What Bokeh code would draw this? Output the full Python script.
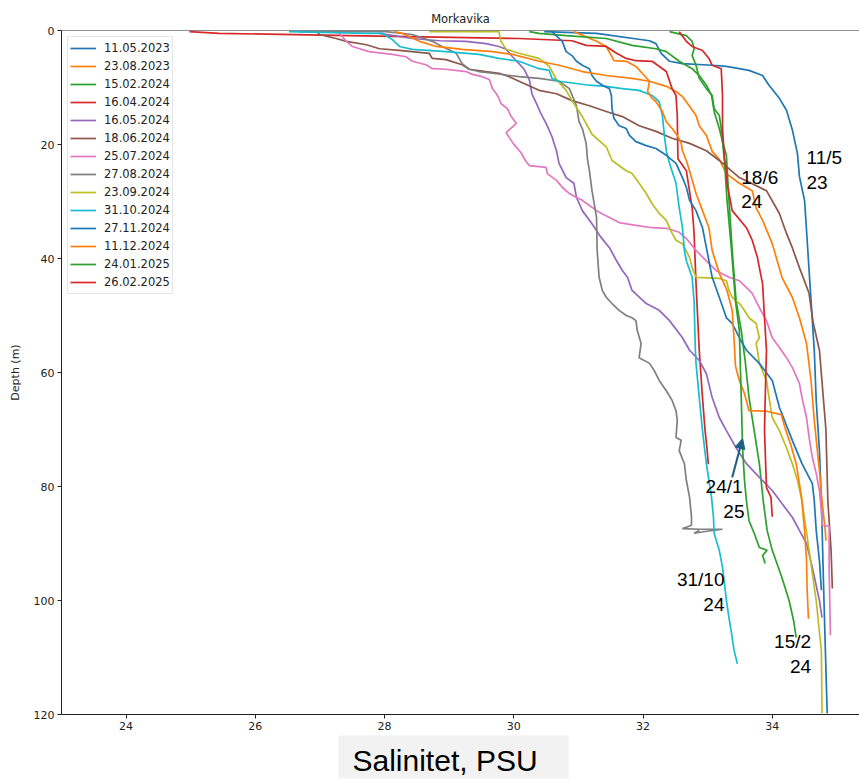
from bokeh.plotting import figure
from bokeh.models import Range1d, Span, Label, Arrow, NormalHead, FixedTicker, Title
from bokeh.embed import file_html
from bokeh.resources import INLINE

# ---------------- data (salinity PSU vs depth m) ----------------
dates = ["11.05.2023", "23.08.2023", "15.02.2024", "16.04.2024", "16.05.2024",
         "18.06.2024", "25.07.2024", "27.08.2024", "23.09.2024", "31.10.2024",
         "27.11.2024", "11.12.2024", "24.01.2025", "26.02.2025"]
colors = ["#1f77b4", "#ff7f0e", "#2ca02c", "#d62728", "#9467bd", "#8c564b", "#e377c2",
          "#7f7f7f", "#bcbd22", "#17becf", "#1f77b4", "#ff7f0e", "#2ca02c", "#d62728"]

sal_20230511 = [30.47, 31.28, 32.10, 32.20, 32.28, 32.41, 32.61, 33.07, 33.29, 33.64, 33.85, 33.95, 34.11, 34.22,
                34.31, 34.39, 34.42, 34.50, 34.54, 34.60, 34.65, 34.68, 34.73, 34.76, 34.80, 34.85]
dep_20230511 = [0.2, 0.5, 1.8, 2.3, 4.0, 5.4, 5.8, 6.1, 6.3, 7.0, 7.9, 9.6, 11.9, 14.0,
                17.4, 21.6, 25.6, 29.8, 36.8, 47.4, 56.1, 64.9, 73.7, 82.5, 100.0, 119.8]

sal_20230823 = [30.93, 31.28, 31.43, 31.51, 31.55, 31.74, 31.89, 32.10, 32.36, 32.51, 32.61, 32.72, 32.82, 32.87,
                32.98, 33.07, 33.18, 33.29, 33.49, 33.69, 33.75, 33.85, 34.00, 34.15, 34.31, 34.42, 34.53, 34.60,
                34.65, 34.73, 34.77, 34.82, 34.83]
dep_20230823 = [0.2, 1.9, 2.8, 4.4, 5.3, 5.4, 6.3, 8.9, 9.8, 10.7, 11.6, 13.3, 14.9, 16.7,
                18.4, 21.2, 22.6, 25.1, 26.8, 28.1, 31.1, 33.3, 37.4, 43.3, 46.8, 50.4, 54.9, 61.4,
                68.4, 77.2, 82.5, 87.7, 89.5]

sal_20240215 = [30.24, 30.39, 30.81, 31.43, 31.83, 32.20, 32.36, 32.56, 32.76, 32.87, 32.98, 33.06, 33.10, 33.18,
                33.23, 33.29, 33.33, 33.38, 33.44, 33.52, 33.58, 33.64, 33.72, 33.80, 33.86, 33.92, 34.00, 34.15,
                34.26, 34.33, 34.37]
dep_20240215 = [0.2, 0.5, 0.9, 1.4, 2.6, 3.2, 3.7, 5.4, 6.7, 7.9, 9.6, 11.4, 14.2, 17.2,
                19.5, 21.9, 29.8, 38.6, 47.4, 52.6, 57.9, 64.4, 70.2, 76.0, 82.5, 87.7, 91.2, 96.0,
                100.0, 103.5, 106.5]

sal_20240416 = [24.98, 25.44, 27.45, 30.08, 30.90, 31.12, 31.43, 31.59, 31.74, 31.89, 32.14, 32.36, 32.45, 32.51,
                32.53, 32.54, 32.67, 32.76, 32.79, 32.82, 32.87, 32.92, 32.96, 32.99, 33.01]
dep_20240416 = [0.2, 0.5, 0.9, 1.4, 1.8, 2.6, 2.8, 4.0, 4.9, 5.3, 5.4, 7.2, 10.2, 11.4,
                14.9, 22.5, 24.6, 31.1, 35.6, 44.4, 56.1, 64.4, 70.2, 73.3, 76.1]

sal_20240516 = [27.92, 28.43, 28.85, 29.26, 29.57, 29.77, 29.88, 29.98, 30.08, 30.16, 30.24, 30.28, 30.35, 30.42,
                30.50, 30.59, 30.66, 30.70, 30.81, 30.93, 30.97, 31.06, 31.21, 31.35, 31.48, 31.59, 31.68, 31.76,
                31.83, 32.05, 32.25, 32.41, 32.61, 32.72, 32.87, 32.98, 33.07, 33.18, 33.29, 33.44, 33.60, 33.80,
                34.00, 34.15, 34.31, 34.42, 34.53, 34.62, 34.73, 34.77]
dep_20240516 = [0.5, 1.4, 1.8, 1.9, 2.3, 2.8, 3.3, 4.6, 5.8, 6.8, 8.6, 11.1, 12.8, 14.6,
                16.3, 18.6, 21.1, 23.3, 25.8, 26.8, 29.3, 31.6, 33.9, 36.3, 38.1, 40.4, 42.1, 43.3,
                45.6, 47.9, 49.1, 50.9, 53.9, 56.1, 57.9, 60.2, 64.4, 67.9, 70.2, 73.2, 76.0, 78.4,
                80.7, 83.0, 85.4, 87.7, 90.0, 94.2, 100.0, 103.0]

sal_20240618 = [26.96, 26.99, 27.25, 27.41, 27.72, 27.92, 28.23, 28.69, 28.74, 28.95, 29.20, 29.31, 29.57, 29.77,
                29.93, 30.08, 30.39, 30.66, 30.90, 31.17, 31.43, 31.68, 31.94, 32.20, 32.45, 32.72, 32.98, 33.18,
                33.49, 33.91, 34.11, 34.22, 34.31, 34.42, 34.57, 34.63, 34.73, 34.83, 34.86, 34.91, 34.93]
dep_20240618 = [0.2, 0.7, 1.4, 1.9, 2.5, 3.2, 3.5, 4.0, 4.9, 5.1, 6.0, 6.8, 7.2, 7.5,
                8.1, 8.9, 10.5, 11.1, 12.3, 13.2, 14.2, 15.1, 16.7, 17.7, 18.9, 19.8, 21.1, 22.8,
                25.8, 28.1, 32.1, 35.6, 38.1, 41.6, 46.1, 51.1, 56.1, 70.0, 82.5, 91.2, 97.9]

sal_20240725 = [27.22, 27.30, 27.41, 27.50, 27.76, 28.12, 28.33, 28.43, 28.64, 28.74, 28.95, 29.26, 29.36, 29.51,
                29.62, 29.67, 29.73, 29.77, 29.80, 29.90, 29.96, 30.04, 29.88, 29.99, 30.11, 30.18, 30.24, 30.50,
                30.52, 30.66, 30.75, 30.86, 30.97, 31.06, 31.17, 31.32, 31.48, 31.63, 31.89, 32.14, 32.36, 32.56,
                32.67, 32.82, 32.98, 33.13, 33.33, 33.49, 33.60, 33.69, 33.80, 33.91, 34.00, 34.11, 34.22, 34.31,
                34.42, 34.46, 34.53, 34.57, 34.62, 34.68, 34.73, 34.76, 34.77, 34.88, 34.88, 34.90]
dep_20240725 = [0.2, 0.5, 1.9, 2.8, 3.7, 4.2, 4.6, 5.4, 6.0, 6.7, 6.8, 7.2, 7.7, 8.1,
                8.6, 10.2, 11.1, 11.9, 12.8, 13.7, 15.1, 16.3, 17.9, 19.8, 21.4, 22.8, 23.7, 24.0,
                25.1, 26.3, 27.5, 28.6, 29.3, 29.8, 30.7, 31.9, 32.8, 33.7, 34.2, 34.6, 34.7, 35.4,
                36.5, 38.6, 40.4, 42.1, 43.3, 43.9, 45.1, 46.1, 48.6, 50.9, 53.9, 55.6, 57.4, 59.1,
                61.9, 64.4, 67.9, 71.4, 74.9, 77.7, 80.7, 84.2, 86.8, 87.0, 94.2, 106.1]

sal_20240827 = [26.68, 28.02, 28.43, 28.74, 28.89, 29.11, 29.20, 29.31, 29.46, 29.67, 30.08, 30.39, 30.70, 30.86,
                30.97, 31.01, 31.06, 31.12, 31.14, 31.17, 31.21, 31.28, 31.29, 31.32, 31.37, 31.43, 31.52, 31.63,
                31.74, 31.83, 31.89, 31.91, 31.97, 31.94, 32.10, 32.17, 32.25, 32.36, 32.45, 32.51, 32.53, 32.51,
                32.59, 32.56, 32.64, 32.67, 32.72, 32.75, 32.75, 32.61, 32.87, 33.23, 32.96, 32.79, 32.87]
dep_20240827 = [0.2, 0.2, 0.7, 1.9, 2.8, 4.0, 5.8, 6.8, 7.2, 7.5, 8.1, 8.4, 8.9, 10.2,
                13.2, 16.0, 17.2, 19.8, 22.6, 24.6, 28.1, 32.8, 38.6, 43.3, 45.6, 46.8, 47.9, 49.1,
                50.0, 50.4, 50.9, 52.6, 54.9, 57.4, 58.4, 59.6, 61.4, 63.2, 64.9, 66.7, 68.4, 71.4,
                71.9, 73.7, 76.0, 78.9, 81.9, 85.4, 86.8, 87.4, 87.5, 87.5, 87.9, 88.2, 87.7]

sal_20240923 = [28.69, 29.77, 29.80, 29.88, 30.08, 30.39, 30.55, 30.66, 30.81, 30.90, 31.06, 31.21, 31.43, 31.52,
                31.74, 31.83, 31.94, 32.05, 32.14, 32.25, 32.36, 32.45, 32.51, 32.61, 32.72, 32.76, 32.82, 33.18,
                33.29, 33.33, 33.38, 33.49, 33.54, 33.64, 33.75, 33.80, 33.75, 33.77, 33.80, 33.91, 33.95, 34.00,
                34.11, 34.22, 34.31, 34.39, 34.46, 34.57, 34.68, 34.76, 34.77]
dep_20240923 = [0.2, 0.2, 1.9, 3.3, 4.0, 4.9, 6.3, 8.6, 10.5, 12.3, 15.1, 18.2, 20.4, 22.8,
                24.6, 25.1, 26.8, 28.6, 30.4, 32.1, 33.3, 35.6, 36.8, 37.4, 39.8, 41.6, 43.3, 43.5,
                43.9, 45.6, 46.8, 47.9, 48.6, 50.4, 51.4, 53.9, 54.9, 56.1, 58.4, 61.4, 64.4, 67.9,
                70.2, 73.2, 76.0, 78.9, 82.5, 91.2, 100.0, 108.8, 119.8]

sal_20241031 = [26.52, 27.72, 27.96, 28.12, 28.23, 28.43, 28.95, 29.46, 29.77, 30.08, 30.39, 30.55, 30.59, 30.70,
                31.17, 31.43, 31.68, 31.94, 32.14, 32.25, 32.30, 32.33, 32.36, 32.41, 32.51, 32.56, 32.61, 32.64,
                32.67, 32.76, 32.79, 32.81, 32.82, 32.87, 32.92, 32.98, 33.06, 33.09, 33.10, 33.18, 33.23, 33.26,
                33.29, 33.33, 33.37, 33.41, 33.46]
dep_20241031 = [0.2, 0.5, 0.5, 1.6, 2.8, 3.3, 3.7, 4.2, 4.9, 5.4, 6.7, 7.0, 8.4, 8.9,
                9.6, 9.8, 10.2, 10.5, 11.4, 12.5, 14.9, 18.4, 21.1, 23.3, 26.8, 31.1, 34.6, 38.6,
                40.4, 43.3, 47.4, 56.1, 58.4, 64.4, 70.2, 76.0, 81.9, 85.4, 88.2, 91.2, 94.2, 97.0,
                100.0, 103.0, 105.8, 108.8, 111.1]

sal_20241127 = [30.59, 30.75, 30.81, 30.90, 30.97, 31.06, 31.17, 31.21, 31.28, 31.37, 31.48, 31.51, 31.52, 31.55,
                31.63, 31.74, 31.79, 31.89, 32.05, 32.20, 32.36, 32.51, 32.61, 32.67, 32.72, 32.82, 32.92, 32.98,
                33.02, 33.07, 33.18, 33.29, 33.38, 33.49, 33.60, 33.80, 34.00, 34.11, 34.31, 34.46, 34.62, 34.65,
                34.68, 34.73, 34.76]
dep_20241127 = [0.2, 1.9, 3.7, 4.4, 5.4, 6.1, 6.7, 7.9, 8.9, 9.6, 10.2, 11.4, 13.7, 15.4,
                16.7, 17.2, 18.4, 19.5, 20.2, 20.7, 21.9, 23.3, 25.8, 27.5, 29.8, 31.6, 34.6, 38.1,
                40.4, 43.3, 46.8, 50.4, 51.4, 53.9, 56.1, 58.4, 61.4, 66.1, 71.9, 76.0, 79.5, 82.5,
                87.7, 93.0, 98.2]

sal_20241211 = [28.15, 28.27, 28.54, 28.80, 29.20, 29.67, 29.98, 30.39, 30.70, 31.06, 31.43, 31.83, 32.10, 32.07,
                32.14, 32.20, 32.30, 32.36, 32.45, 32.53, 32.59, 32.61, 32.67, 32.72, 32.82, 32.92, 33.02, 33.07,
                33.18, 33.30, 33.38, 33.41, 33.43, 33.49, 33.57, 33.64, 33.91, 34.14, 34.20, 34.29, 34.37, 34.45,
                34.50, 34.53, 34.54, 34.56]
dep_20241211 = [0.2, 0.5, 1.9, 2.8, 3.3, 3.7, 4.2, 5.4, 6.1, 7.2, 7.9, 8.4, 8.9, 10.7,
                11.9, 12.5, 14.2, 16.0, 17.2, 18.4, 19.8, 21.1, 22.8, 24.6, 28.6, 31.6, 34.6, 38.6,
                42.6, 45.6, 49.1, 54.4, 58.8, 61.4, 63.7, 66.7, 66.8, 67.4, 69.8, 72.8, 76.0, 81.6,
                87.7, 93.0, 98.2, 103.2]

sal_20250124 = [32.41, 32.67, 32.76, 32.79, 32.76, 32.82, 32.87, 32.98, 33.07, 33.10, 33.18, 33.21, 33.26, 33.30,
                33.37, 33.43, 33.49, 33.52, 33.54, 33.57, 33.60, 33.64, 33.72, 33.80, 33.92, 33.85, 33.89]
dep_20250124 = [0.2, 0.9, 1.9, 3.2, 4.4, 6.1, 8.4, 10.2, 11.4, 13.7, 14.9, 17.2, 22.8, 29.8,
                38.6, 47.4, 52.6, 64.4, 73.2, 78.9, 82.5, 86.0, 88.2, 90.7, 91.2, 92.1, 93.5]

sal_20250226 = [32.56, 32.67, 32.76, 32.92, 33.02, 33.07, 33.21, 33.23, 33.23, 33.26, 33.29, 33.30, 33.38, 33.60,
                33.69, 33.77, 33.80, 33.85, 33.88, 33.91, 33.89, 33.88, 33.91, 33.98, 34.00]
dep_20250226 = [0.2, 1.9, 2.8, 3.5, 4.9, 6.1, 6.7, 11.4, 17.2, 22.5, 24.6, 26.8, 31.6, 34.6,
                36.8, 39.8, 41.6, 44.4, 50.4, 56.1, 64.9, 70.2, 80.2, 81.9, 85.3]

salinity = [sal_20230511, sal_20230823, sal_20240215, sal_20240416, sal_20240516, sal_20240618,
            sal_20240725, sal_20240827, sal_20240923, sal_20241031, sal_20241127, sal_20241211,
            sal_20250124, sal_20250226]
depth = [dep_20230511, dep_20230823, dep_20240215, dep_20240416, dep_20240516, dep_20240618,
         dep_20240725, dep_20240827, dep_20240923, dep_20241031, dep_20241127, dep_20241211,
         dep_20250124, dep_20250226]

x_ticks = [24, 26, 28, 30, 32, 34]
y_ticks = [0, 20, 40, 60, 80, 100, 120]

# annotation texts: (text, salinity, depth, align)
notes = [("11/5", 34.53, 22.3, "left"), ("23", 34.53, 26.7, "left"),
         ("18/6", 33.52, 25.8, "left"), ("24", 33.52, 30.0, "left"),
         ("24/1", 33.54, 80.0, "right"), ("25", 33.57, 84.4, "right"),
         ("31/10", 33.26, 96.3, "right"), ("24", 33.26, 100.7, "right"),
         ("15/2", 34.60, 107.2, "right"), ("24", 34.60, 111.6, "right")]
arrow_from = (33.38, 78.4)
arrow_to = (33.54, 71.6)

# ---------------- figure ----------------
FONT = "DejaVu Sans"
p = figure(width=859, height=781, output_backend="svg", toolbar_location=None,
           x_range=Range1d(23, 35.35), y_range=Range1d(120, 0),
           min_border_left=61, min_border_right=0, min_border_top=30, min_border_bottom=67,
           title="Morkavika")
p.background_fill_color = "white"
p.border_fill_color = "white"
p.outline_line_color = None
p.grid.grid_line_color = None

p.title.align = "center"
p.title.text_font = FONT
p.title.text_font_size = "11.5px"
p.title.text_font_style = "normal"
p.title.text_color = "#222222"
p.title.standoff = 9

for ax in (p.xaxis[0], p.yaxis[0]):
    ax.axis_line_color = "#222222"
    ax.axis_line_width = 1
    ax.major_tick_line_color = "#222222"
    ax.major_tick_out = 4
    ax.major_tick_in = 0
    ax.minor_tick_line_color = None
    ax.major_label_text_font = FONT
    ax.major_label_text_font_size = "11px"
    ax.major_label_text_color = "#222222"
    ax.major_label_standoff = 3
p.xaxis.ticker = FixedTicker(ticks=x_ticks)
p.yaxis.ticker = FixedTicker(ticks=y_ticks)
p.yaxis.axis_label = "Depth (m)"
p.yaxis.axis_label_text_font = FONT
p.yaxis.axis_label_text_font_size = "11px"
p.yaxis.axis_label_text_font_style = "normal"
p.yaxis.axis_label_text_color = "#222222"
p.yaxis.axis_label_standoff = 9

p.add_layout(Span(location=0, dimension="width", line_color="#222222", line_width=1))

for d, c, s, z in zip(dates, colors, salinity, depth):
    p.line(s, z, line_color=c, line_width=1.7, legend_label=d)

lg = p.legend[0]
lg.location = "top_left"
lg.label_text_font = FONT
lg.label_text_font_size = "11.5px"
lg.label_text_color = "#222222"
lg.glyph_width = 26
lg.glyph_height = 18
lg.label_height = 18
lg.spacing = 0
lg.padding = 2
lg.margin = 6
lg.label_standoff = 8
lg.border_line_color = "#cccccc"
lg.border_line_width = 1
lg.background_fill_alpha = 0.85

for t, xs, yd, al in notes:
    p.add_layout(Label(x=xs, y=yd, text=t, text_align=al, text_baseline="middle",
                       text_font="Liberation Sans", text_font_size="19px", text_color="black"))

p.add_layout(Arrow(end=NormalHead(size=10, fill_color="#1f5f7f", line_color="#1f5f7f"),
                   x_start=arrow_from[0], y_start=arrow_from[1], x_end=arrow_to[0], y_end=arrow_to[1],
                   line_color="#1f5f7f", line_width=2))

p.add_layout(Title(text="Salinitet, PSU", align="left", offset=277, standoff=2,
                   text_font="Liberation Sans", text_font_size="30px", text_font_style="normal",
                   text_color="black", background_fill_color="#f2f2f2",
                   padding=dict(left=14, right=31, top=8, bottom=2)), "below")

open("out.html", "w").write(file_html(p, INLINE))
